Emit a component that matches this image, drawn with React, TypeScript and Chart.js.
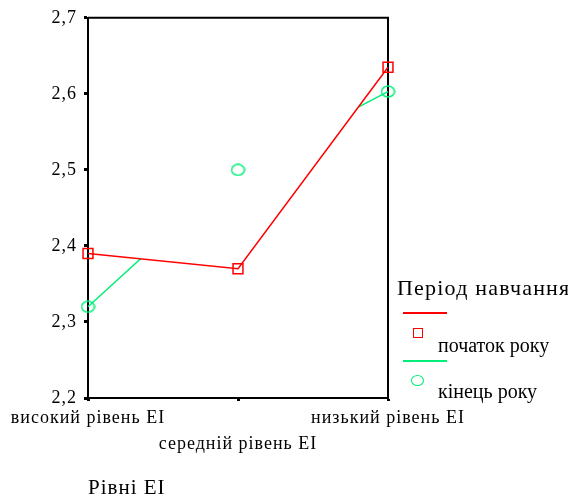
import React, { useEffect, useRef } from 'react';
import { Chart, registerables } from 'chart.js';

Chart.register(...registerables);

const categories = ['високий рівень ЕІ', 'середній рівень ЕІ', 'низький рівень ЕІ'];
const startOfYear = [2.39, 2.37, 2.635];
const endOfYear = [2.32, 2.5, 2.603];
const yTicks = [2.2, 2.3, 2.4, 2.5, 2.6, 2.7];
const seriesLabels = ['початок року', 'кінець року'];
const legendTitle = 'Період навчання';
const xTitle = 'Рівні ЕІ';

const RED = '#ff0000';
const GREEN = '#00ee78';
const SERIF = "'Liberation Serif', 'Times New Roman', serif";

const spacingPlugin = {
  id: 'spacing',
  beforeUpdate(chart: any) { (chart.ctx as any).letterSpacing = '1px'; },
  beforeDraw(chart: any) { (chart.ctx as any).letterSpacing = '1px'; },
};

const clipGreenPlugin = {
  id: 'clipGreen',
  beforeDatasetDraw(chart: any, args: any) {
    if (args.index !== 1) return;
    const red = chart.getDatasetMeta(0).data;
    const { ctx, chartArea } = chart;
    ctx.save();
    ctx.beginPath();
    ctx.moveTo(chartArea.left - 10, red[0].y);
    red.forEach((p: any) => ctx.lineTo(p.x, p.y));
    ctx.lineTo(chartArea.right + 10, red[red.length - 1].y);
    ctx.lineTo(chartArea.right + 10, chartArea.bottom + 10);
    ctx.lineTo(chartArea.left - 10, chartArea.bottom + 10);
    ctx.closePath();
    ctx.clip();
  },
  afterDatasetDraw(chart: any, args: any) {
    if (args.index === 1) chart.ctx.restore();
  },
};

const framePlugin = {
  id: 'frame',
  beforeDatasetsDraw(chart: any) {
    const { ctx, chartArea } = chart;
    ctx.save();
    ctx.strokeStyle = '#000';
    ctx.lineWidth = 2;
    ctx.beginPath();
    ctx.moveTo(chartArea.left, chartArea.top);
    ctx.lineTo(chartArea.right, chartArea.top);
    ctx.lineTo(chartArea.right, chartArea.bottom);
    ctx.stroke();
    ctx.restore();
  },
};

function makeEllipse(): HTMLCanvasElement {
  const c = document.createElement('canvas');
  c.width = 15;
  c.height = 13;
  const g = c.getContext('2d')!;
  g.strokeStyle = GREEN;
  g.lineWidth = 1.5;
  g.beginPath();
  g.ellipse(7.5, 6.5, 6.4, 5.4, 0, 0, Math.PI * 2);
  g.stroke();
  return c;
}

export default function App() {
  const ref = useRef<HTMLCanvasElement | null>(null);

  useEffect(() => {
    if (!ref.current) return;
    const ellipse = makeEllipse();
    const chart = new Chart(ref.current, {
      type: 'line',
      data: {
        labels: categories,
        datasets: [
          {
            label: seriesLabels[0],
            data: startOfYear,
            borderColor: RED,
            borderWidth: 1.5,
            pointStyle: 'rect',
            pointRadius: 7,
            pointBorderWidth: 1.5,
            pointBorderColor: RED,
            pointBackgroundColor: 'rgba(0,0,0,0)',
            tension: 0,
            clip: false as any,
          },
          {
            label: seriesLabels[1] + ' line',
            data: endOfYear,
            borderColor: GREEN,
            borderWidth: 1.5,
            pointRadius: 0,
            tension: 0,
            clip: false as any,
          },
          {
            label: seriesLabels[1],
            data: endOfYear,
            showLine: false,
            borderColor: GREEN,
            pointStyle: ellipse as any,
            pointRadius: 7,
            clip: false as any,
          },
        ],
      },
      options: {
        animation: false,
        responsive: false,
        devicePixelRatio: 1,
        layout: { padding: { top: 15, right: 180, left: 0, bottom: 0 } },
        plugins: { legend: { display: false }, tooltip: { enabled: false } },
        scales: {
          x: {
            type: 'category',
            offset: false,
            afterFit: (s: any) => { s.height = 103; },
            grid: {
              display: true,
              drawOnChartArea: false,
              drawTicks: true,
              tickLength: 3,
              tickWidth: 3,
              tickColor: '#000',
            },
            border: { display: true, color: '#000', width: 2 },
            ticks: {
              autoSkip: false,
              maxRotation: 0,
              minRotation: 0,
              padding: 4,
              color: '#000',
              font: { family: SERIF, size: 18, lineHeight: 26 / 18 },
              callback: (_v: any, i: number) => (i % 2 === 1 ? ['', categories[i]] : categories[i]),
            },
            title: {
              display: true,
              text: xTitle,
              align: 'start',
              color: '#000',
              font: { family: SERIF, size: 21 },
              padding: 0,
            },
          },
          y: {
            min: 2.2,
            max: 2.7,
            afterFit: (s: any) => { s.width = 88; },
            afterBuildTicks: (s: any) => { s.ticks = yTicks.map((v) => ({ value: v })); },
            grid: {
              display: true,
              drawOnChartArea: false,
              drawTicks: true,
              tickLength: 4,
              tickWidth: 3,
              tickColor: '#000',
            },
            border: { display: true, color: '#000', width: 2 },
            ticks: {
              padding: 7,
              color: '#000',
              font: { family: SERIF, size: 18 },
              callback: (v: any) => Number(v).toFixed(1).replace('.', ','),
            },
          },
        },
      },
      plugins: [spacingPlugin, clipGreenPlugin, framePlugin],
    });
    return () => chart.destroy();
  }, []);

  const text = (size: number, spacing: number): React.CSSProperties => ({
    position: 'absolute',
    fontFamily: SERIF,
    fontSize: size,
    lineHeight: `${size}px`,
    letterSpacing: spacing,
    color: '#000',
    whiteSpace: 'nowrap',
  });

  return (
    <div style={{ position: 'absolute', left: 0, top: 0, width: 568, height: 501, background: '#fff', overflow: 'hidden' }}>
      <canvas ref={ref} width={568} height={501} style={{ display: 'block', width: 568, height: 501 }} />
      <div style={{ ...text(22, 1.2), left: 397, top: 277 }}>{legendTitle}</div>
      <div style={{ position: 'absolute', left: 403, top: 312, width: 44, height: 1.5, background: RED }} />
      <div style={{ position: 'absolute', left: 413, top: 328, width: 10, height: 10, boxSizing: 'border-box', border: `1.5px solid ${RED}` }} />
      <div style={{ ...text(20, 0), left: 438, top: 335 }}>{seriesLabels[0]}</div>
      <div style={{ position: 'absolute', left: 403, top: 360, width: 44, height: 1.5, background: GREEN }} />
      <div style={{ position: 'absolute', left: 411, top: 375, width: 13, height: 11, boxSizing: 'border-box', borderRadius: '50%', border: `1.5px solid ${GREEN}` }} />
      <div style={{ ...text(20, 0), left: 438, top: 381 }}>{seriesLabels[1]}</div>
    </div>
  );
}
